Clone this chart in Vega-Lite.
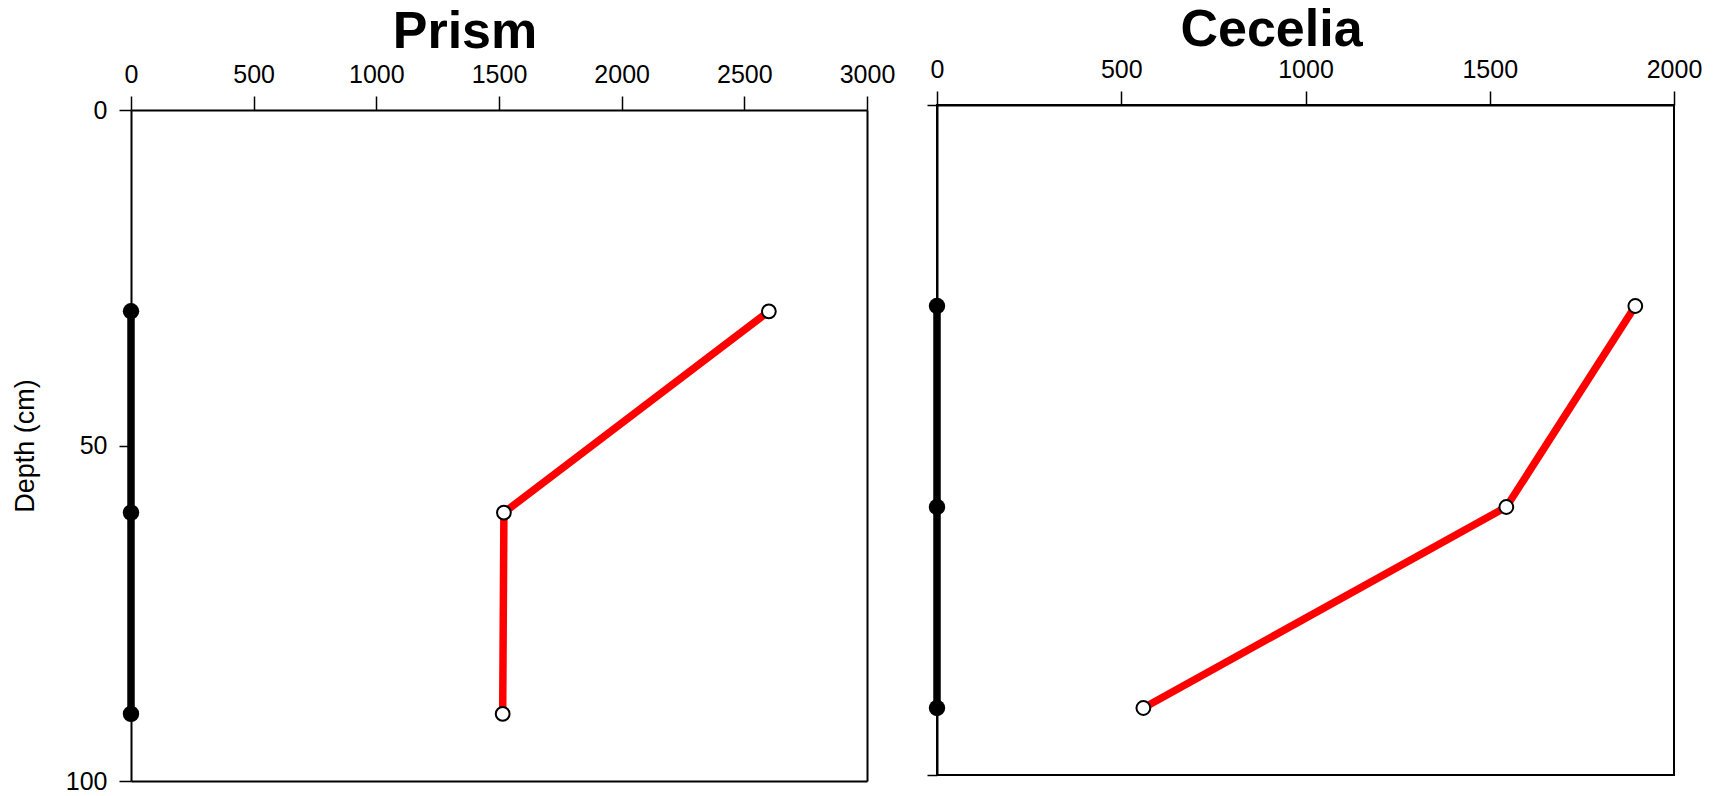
{
  "$schema": "https://vega.github.io/schema/vega-lite/v6.json",
  "padding": {"left": 11, "top": 3, "right": 10, "bottom": 10},
  "background": "white",
  "config": {
    "font": "Liberation Sans",
    "view": {"stroke": "black", "strokeWidth": 2},
    "axis": {
      "grid": false,
      "domainColor": "black",
      "domainWidth": 2,
      "tickColor": "black",
      "tickWidth": 1.5,
      "labelFlush": false,
      "labelFont": "Liberation Sans",
      "labelFontSize": 25,
      "labelColor": "black",
      "titleFont": "Liberation Sans",
      "titleFontSize": 27,
      "titleFontWeight": "normal",
      "titleColor": "black"
    },
    "axisX": {"tickSize": 14, "labelPadding": 9, "format": "d"},
    "axisY": {"tickSize": 12, "labelPadding": 12, "format": "d"},
    "title": {
      "font": "Liberation Sans",
      "fontSize": 52,
      "fontWeight": "bold",
      "color": "black",
      "dx": -34,
      "offset": 3
    }
  },
  "data": {
    "values": [
      {"site": "Prism", "series": "baseline", "depth": 30, "value": 0},
      {"site": "Prism", "series": "baseline", "depth": 60, "value": 0},
      {"site": "Prism", "series": "baseline", "depth": 90, "value": 0},
      {"site": "Prism", "series": "profile", "depth": 30, "value": 2600},
      {"site": "Prism", "series": "profile", "depth": 60, "value": 1520},
      {"site": "Prism", "series": "profile", "depth": 90, "value": 1515},
      {"site": "Cecelia", "series": "baseline", "depth": 30, "value": 0},
      {"site": "Cecelia", "series": "baseline", "depth": 60, "value": 0},
      {"site": "Cecelia", "series": "baseline", "depth": 90, "value": 0},
      {"site": "Cecelia", "series": "profile", "depth": 30, "value": 1895},
      {"site": "Cecelia", "series": "profile", "depth": 60, "value": 1545},
      {"site": "Cecelia", "series": "profile", "depth": 90, "value": 560}
    ]
  },
  "spacing": 26,
  "hconcat": [
    {
      "title": {"text": "Prism"},
      "width": 736,
      "height": 676,
      "view": {"stroke": null},
      "transform": [{"filter": "datum.site === 'Prism'"}],
      "resolve": {"axis": {"x": "independent", "y": "independent"}},
      "layer": [
        {
          "transform": [{"filter": "datum.series === 'baseline'"}],
          "mark": {"type": "line", "color": "black", "strokeWidth": 7.5},
          "encoding": {
            "x": {
              "field": "value",
              "type": "quantitative",
              "scale": {"domain": [0, 3000], "nice": false, "zero": false},
              "axis": {"orient": "top", "offset": -5, "values": [0, 500, 1000, 1500, 2000, 2500, 3000], "title": null}
            },
            "y": {
              "field": "depth",
              "type": "quantitative",
              "scale": {"domain": [0, 100], "range": [5, 676], "nice": false, "zero": false},
              "axis": {"orient": "left", "values": [0, 50, 100], "title": "Depth (cm)", "titlePadding": 26}
            },
            "order": {"field": "depth"}
          }
        },
        {
          "transform": [{"filter": "datum.series === 'profile'"}],
          "mark": {"type": "line", "color": "#ff0000", "strokeWidth": 7.5},
          "encoding": {
            "x": {
              "field": "value",
              "type": "quantitative",
              "axis": {"orient": "bottom", "labels": false, "ticks": false, "title": null}
            },
            "y": {
              "field": "depth",
              "type": "quantitative",
              "axis": {"orient": "right", "labels": false, "ticks": false, "title": null}
            },
            "order": {"field": "depth"}
          }
        },
        {
          "transform": [{"filter": "datum.series === 'baseline'"}],
          "mark": {"type": "point", "shape": "circle", "filled": true, "color": "black", "opacity": 1, "size": 270},
          "encoding": {
            "x": {"field": "value", "type": "quantitative", "axis": null},
            "y": {"field": "depth", "type": "quantitative", "axis": null}
          }
        },
        {
          "transform": [{"filter": "datum.series === 'profile'"}],
          "mark": {"type": "point", "shape": "circle", "filled": true, "fill": "white", "stroke": "black", "strokeWidth": 2, "opacity": 1, "size": 190},
          "encoding": {
            "x": {"field": "value", "type": "quantitative", "axis": null},
            "y": {"field": "depth", "type": "quantitative", "axis": null}
          }
        }
      ]
    },
    {
      "title": {"text": "Cecelia", "offset": 0},
      "width": 737,
      "height": 670,
      "transform": [{"filter": "datum.site === 'Cecelia'"}],
      "encoding": {
        "x": {
          "field": "value",
          "type": "quantitative",
          "scale": {"domain": [0, 2000], "nice": false, "zero": false},
          "axis": {"orient": "top", "values": [0, 500, 1000, 1500, 2000], "title": null}
        },
        "y": {
          "field": "depth",
          "type": "quantitative",
          "scale": {"domain": [0, 100], "reverse": true, "nice": false},
          "axis": {"values": [0, 100], "labels": false, "title": null, "tickSize": 10}
        }
      },
      "layer": [
        {
          "transform": [{"filter": "datum.series === 'baseline'"}],
          "mark": {"type": "line", "color": "black", "strokeWidth": 7.5},
          "encoding": {"order": {"field": "depth"}}
        },
        {
          "transform": [{"filter": "datum.series === 'profile'"}],
          "mark": {"type": "line", "color": "#ff0000", "strokeWidth": 7.5},
          "encoding": {"order": {"field": "depth"}}
        },
        {
          "transform": [{"filter": "datum.series === 'baseline'"}],
          "mark": {"type": "point", "shape": "circle", "filled": true, "color": "black", "opacity": 1, "size": 270}
        },
        {
          "transform": [{"filter": "datum.series === 'profile'"}],
          "mark": {"type": "point", "shape": "circle", "filled": true, "fill": "white", "stroke": "black", "strokeWidth": 2, "opacity": 1, "size": 190}
        }
      ]
    }
  ]
}
